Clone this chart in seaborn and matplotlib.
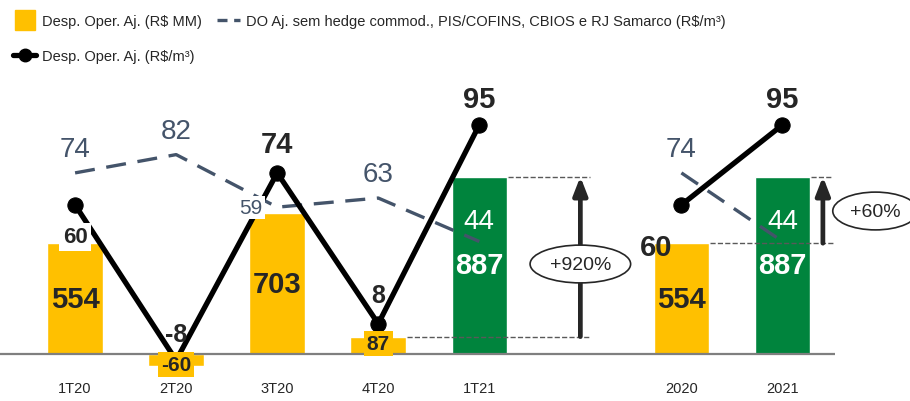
import matplotlib
matplotlib.use("Agg")
import matplotlib.pyplot as plt
import matplotlib.font_manager as fm
from matplotlib.lines import Line2D
import seaborn as sns
import pandas as pd

# data
periods = ['1T20', '2T20', '3T20', '4T20', '1T21', '2020', '2021']
groups = ['tri', 'tri', 'tri', 'tri', 'tri', 'ano', 'ano']
desp_mm = [554, -60, 703, 87, 887, 554, 887]           # R$ MM (bars)
desp_m3 = [60, -8, 74, 8, 95, 60, 95]                  # R$/m3 (black line)
do_aj = [74, 82, 59, 63, 44, 74, 44]                   # R$/m3 (dashed line)
order = ['1T20', '2T20', '3T20', '4T20', '1T21', ' ', '2020', '2021']

YELLOW = '#FFC000'
GREEN = '#00843D'
SLATE = '#44546A'
DARK = '#262626'

sns.set_theme(style='white')
names = {f.name for f in fm.fontManager.ttflist}
fam = [f for f in ['Liberation Sans Narrow', 'Liberation Sans', 'DejaVu Sans'] if f in names]
plt.rcParams['font.family'] = fam

df = pd.DataFrame({'periodo': periods, 'grupo': groups, 'mm': desp_mm,
                   'm3': desp_m3, 'do': do_aj})
df['pos'] = [order.index(p) for p in periods]
colors = {p: (GREEN if p in ('1T21', '2021') else YELLOW) for p in periods}

fig = plt.figure(figsize=(9.1, 4.02), dpi=100)
ax = fig.add_axes([0.0, 0.0597, 0.9176, 0.7164])

sns.barplot(data=df, x='periodo', y='mm', hue='periodo', order=order,
            palette=colors, width=0.55, legend=False, saturation=1, ax=ax)
ax.axhline(0, color='#7f7f7f', lw=1.6, zorder=1)
ax.set_xlim(-0.743, 7.52)
ax.set_ylim(-115, 1325)
ax.set_xlabel('')
ax.set_ylabel('')
ax.set_yticks([])
ax.tick_params(axis='x', length=0, pad=3, labelsize=10.5, labelcolor=DARK)
for s in ax.spines.values():
    s.set_visible(False)

ax2 = ax.twinx()
ax2.set_ylim(-15.3, 110.7)
sns.lineplot(data=df, x='pos', y='do', units='grupo', estimator=None,
             color=SLATE, lw=2.4, dashes=False, ax=ax2)
for l in ax2.lines:
    l.set_dashes([6, 3.5])
sns.lineplot(data=df, x='pos', y='m3', units='grupo', estimator=None,
             color='black', lw=3.8, marker='o', markersize=11,
             markeredgecolor='black', ax=ax2)
ax2.set_yticks([])
ax2.set_ylabel('')
ax2.set_xlabel('')
for s in ax2.spines.values():
    s.set_visible(False)

# bar labels
for _, r in df.iterrows():
    v = r['mm']
    green = r['periodo'] in ('1T21', '2021')
    if abs(v) < 100:
        ax2.annotate(f'{v}', (r['pos'], 0), xycoords=ax.transData,
                     xytext=(0, -7.5 if v < 0 else 7.5), textcoords='offset points',
                     ha='center', va='center', fontsize=15, fontweight='bold',
                     color=DARK, zorder=6,
                     bbox=dict(boxstyle='square,pad=0.15', fc=YELLOW, ec='none'))
    else:
        ax.text(r['pos'], v / 2, f'{v}', ha='center', va='center',
                fontsize=21, fontweight='bold',
                color='white' if green else DARK, zorder=5)

# black line labels
m3_off = {'1T20': (0, -23), '2T20': (0, 19), '3T20': (0, 21), '4T20': (0, 21),
          '1T21': (0, 19), '2020': (-18, -30), '2021': (0, 19)}
for _, r in df.iterrows():
    kw = {}
    if r['periodo'] == '1T20':
        kw = dict(bbox=dict(boxstyle='square,pad=0.15', fc='white', ec='none'))
        fs = 16
    elif r['periodo'] in ('2T20', '4T20'):
        fs = 18
    else:
        fs = 21
    ax2.annotate(f"{r['m3']}", (r['pos'], r['m3']), xytext=m3_off[r['periodo']],
                 textcoords='offset points', ha='center', va='center',
                 fontsize=fs, fontweight='bold', color=DARK, zorder=7, **kw)

# dashed line labels
for _, r in df.iterrows():
    p = r['periodo']
    if p in ('1T21', '2021'):
        ax.text(r['pos'], r['mm'] * 0.75, f"{r['do']}", ha='center', va='center',
                fontsize=20, color='white', zorder=5)
    elif p == '3T20':
        ax2.annotate(f"{r['do']}", (r['pos'], r['do']), xytext=(-19, 0),
                     textcoords='offset points', ha='center', va='center',
                     fontsize=15, color=SLATE, zorder=7,
                     bbox=dict(boxstyle='square,pad=0.1', fc='white', ec='none'))
    else:
        ax2.annotate(f"{r['do']}", (r['pos'], r['do']), xytext=(0, 17),
                     textcoords='offset points', ha='center', va='center',
                     fontsize=20, color=SLATE, zorder=7)

# growth arrows
def growth(x0, x1, low_pos, v_lo, v_hi, txt, tx, ty, w=0.28):
    ax.hlines(v_lo, low_pos + w, x1 + 0.1, colors='#595959', ls='--', lw=1, zorder=2)
    ax.hlines(v_hi, x0 + w, x1 + 0.1, colors='#595959', ls='--', lw=1, zorder=2)
    ax.annotate('', xy=(x1, v_hi), xytext=(x1, v_lo),
                arrowprops=dict(arrowstyle='-|>,head_width=0.35,head_length=0.9',
                                lw=3.4, color=DARK, shrinkA=0, shrinkB=0), zorder=3)
    ax.text(tx, ty, txt, ha='center', va='center', fontsize=14, color=DARK, zorder=4,
            bbox=dict(boxstyle='ellipse,pad=0.25', fc='white', ec=DARK, lw=1.2),
            clip_on=False)

p = dict(zip(periods, df['pos']))
v = dict(zip(periods, desp_mm))
growth(p['1T21'], p['1T21'] + 1.0, p['4T20'], v['4T20'], v['1T21'],
       '+920%', p['1T21'] + 1.0, 450)
growth(p['2021'], p['2021'] + 0.4, p['2020'], v['2020'], v['2021'],
       '+60%', p['2021'] + 0.92, 715)

# legend
handles = [Line2D([], [], color=YELLOW, lw=0, marker='s', markersize=15,
                  label='Desp. Oper. Aj. (R$ MM)'),
           Line2D([], [], color='black', lw=3.8, marker='o', markersize=9,
                  label='Desp. Oper. Aj. (R$/m³)'),
           Line2D([], [], color=SLATE, lw=2.4, dashes=[3, 2],
                  label='DO Aj. sem hedge commod., PIS/COFINS, CBIOS e RJ Samarco (R$/m³)')]
fig.legend(handles=handles, loc='upper left', bbox_to_anchor=(0.0, 0.995), ncol=2,
           frameon=False, fontsize=10.5, handlelength=1.6, handletextpad=0.4,
           columnspacing=1.0, labelspacing=1.45, labelcolor=DARK)

fig.savefig('out.png', dpi=100)
